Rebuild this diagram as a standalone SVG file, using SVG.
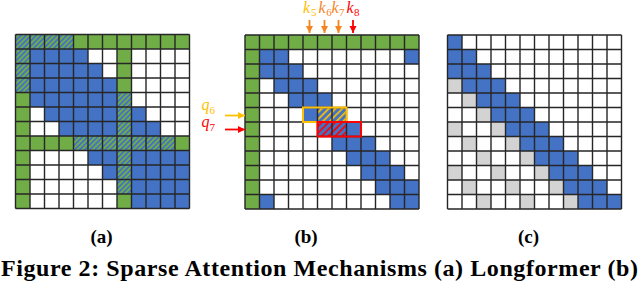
<svg xmlns="http://www.w3.org/2000/svg" xmlns:xlink="http://www.w3.org/1999/xlink" width="640" height="282" viewBox="0 0 640 282">
<style>
.g{fill:#70AD47}
.b{fill:#4472C4}
.s{fill:#D3D3D3}
.w{fill:#FFFFFF}
.grid{fill:none;stroke:#262626;stroke-width:1.4}
.lab{font-family:"Liberation Serif","DejaVu Serif",serif;font-weight:bold;font-size:19px;fill:#000;text-anchor:middle}
.cap{font-family:"Liberation Serif","DejaVu Serif",serif;font-weight:bold;font-size:24px;fill:#000}
.it{font-family:"Liberation Serif","DejaVu Serif",serif;font-style:italic;font-size:16px}
.sub{font-family:"Liberation Serif","DejaVu Serif",serif;font-size:11px}
</style>
<defs>
<pattern id="hA" patternUnits="userSpaceOnUse" width="3.6" height="3.6" patternTransform="rotate(45)"><rect width="3.6" height="3.6" fill="#70AD47"/><rect width="1.8" height="3.6" fill="#4472C4"/></pattern>
<pattern id="hY" patternUnits="userSpaceOnUse" width="4.8" height="4.8" patternTransform="rotate(45)"><rect width="4.8" height="4.8" fill="#4472C4"/><rect width="1.7" height="4.8" fill="#FFC000"/></pattern>
<pattern id="hR" patternUnits="userSpaceOnUse" width="4.8" height="4.8" patternTransform="rotate(45)"><rect width="4.8" height="4.8" fill="#4472C4"/><rect width="1.7" height="4.8" fill="#FF0000"/></pattern>
<path id="gridp" d="M0 0V174M14.5 0V174M29 0V174M43.5 0V174M58 0V174M72.5 0V174M87 0V174M101.5 0V174M116 0V174M130.5 0V174M145 0V174M159.5 0V174M174 0V174M0 0H174M0 14.5H174M0 29H174M0 43.5H174M0 58H174M0 72.5H174M0 87H174M0 101.5H174M0 116H174M0 130.5H174M0 145H174M0 159.5H174M0 174H174"/>
<marker id="mO" markerUnits="userSpaceOnUse" markerWidth="8" markerHeight="8" refX="7" refY="3.5" orient="auto"><path d="M0 0L7 3.5L0 7z" fill="#F5841F"/></marker>
<marker id="mR" markerUnits="userSpaceOnUse" markerWidth="8" markerHeight="8" refX="7" refY="3.5" orient="auto"><path d="M0 0L7 3.5L0 7z" fill="#FF0000"/></marker>
<marker id="mY" markerUnits="userSpaceOnUse" markerWidth="8" markerHeight="8" refX="7" refY="3.5" orient="auto"><path d="M0 0L7 3.5L0 7z" fill="#FFC000"/></marker>
</defs>

<g id="gridA" transform="translate(15.5,34.5)">
<rect class="w" width="174" height="174"/>
<rect x="0" y="0" width="14.5" height="58" fill="url(#hA)"/>
<rect x="14.5" y="0" width="43.5" height="14.5" fill="url(#hA)"/>
<rect class="g" x="58" y="0" width="116" height="14.5"/>
<rect class="b" x="14.5" y="14.5" width="58" height="14.5"/>
<rect class="b" x="14.5" y="29" width="72.5" height="14.5"/>
<rect class="b" x="14.5" y="43.5" width="87" height="14.5"/>
<rect class="g" x="101.5" y="14.5" width="14.5" height="43.5"/>
<rect class="g" x="0" y="58" width="14.5" height="116"/>
<rect class="b" x="14.5" y="58" width="87" height="14.5"/>
<rect class="b" x="29" y="72.5" width="72.5" height="14.5"/>
<rect class="b" x="116" y="72.5" width="14.5" height="14.5"/>
<rect class="b" x="43.5" y="87" width="58" height="14.5"/>
<rect class="b" x="116" y="87" width="29" height="14.5"/>
<rect x="101.5" y="58" width="14.5" height="43.5" fill="url(#hA)"/>
<rect class="g" x="0" y="101.5" width="58" height="14.5"/>
<rect x="58" y="101.5" width="101.5" height="14.5" fill="url(#hA)"/>
<rect class="g" x="159.5" y="101.5" width="14.5" height="14.5"/>
<rect class="b" x="72.5" y="116" width="29" height="14.5"/>
<rect class="b" x="87" y="130.5" width="14.5" height="14.5"/>
<rect x="101.5" y="116" width="14.5" height="43.5" fill="url(#hA)"/>
<rect class="g" x="101.5" y="159.5" width="14.5" height="14.5"/>
<rect class="b" x="116" y="116" width="58" height="58"/>
<use xlink:href="#gridp" class="grid"/>
</g>

<g id="gridB" transform="translate(245,35)">
<rect class="w" width="174" height="174"/>
<rect class="g" x="0" y="0" width="174" height="14.5"/>
<rect class="g" x="0" y="14.5" width="14.5" height="159.5"/>
<rect class="b" x="14.5" y="14.5" width="29" height="14.5"/>
<rect class="b" x="159.5" y="14.5" width="14.5" height="14.5"/>
<rect class="b" x="14.5" y="29" width="43.5" height="14.5"/>
<rect class="b" x="29" y="43.5" width="43.5" height="14.5"/>
<rect class="b" x="43.5" y="58" width="43.5" height="14.5"/>
<rect class="b" x="58" y="72.5" width="14.5" height="14.5"/>
<rect x="72.5" y="72.5" width="29" height="14.5" fill="url(#hY)"/>
<rect x="72.5" y="87" width="29" height="14.5" fill="url(#hR)"/>
<rect class="b" x="101.5" y="87" width="14.5" height="14.5"/>
<rect class="b" x="87" y="101.5" width="43.5" height="14.5"/>
<rect class="b" x="101.5" y="116" width="43.5" height="14.5"/>
<rect class="b" x="116" y="130.5" width="43.5" height="14.5"/>
<rect class="b" x="130.5" y="145" width="43.5" height="14.5"/>
<rect class="b" x="14.5" y="159.5" width="14.5" height="14.5"/>
<rect class="b" x="145" y="159.5" width="29" height="14.5"/>
<use xlink:href="#gridp" class="grid"/>
<rect x="58" y="72.5" width="43.5" height="14.5" fill="none" stroke="#FFC000" stroke-width="2"/>
<rect x="72.5" y="87" width="43.5" height="14.5" fill="none" stroke="#FF0000" stroke-width="2"/>
</g>

<g id="gridC" transform="translate(447.5,35)">
<rect class="w" width="174" height="174"/>
<rect class="b" x="0" y="0" width="14.5" height="14.5"/>
<rect class="b" x="0" y="14.5" width="29" height="14.5"/>
<rect class="b" x="0" y="29" width="43.5" height="14.5"/>
<rect class="b" x="14.5" y="43.5" width="43.5" height="14.5"/>
<rect class="b" x="29" y="58" width="43.5" height="14.5"/>
<rect class="b" x="43.5" y="72.5" width="43.5" height="14.5"/>
<rect class="b" x="58" y="87" width="43.5" height="14.5"/>
<rect class="b" x="72.5" y="101.5" width="43.5" height="14.5"/>
<rect class="b" x="87" y="116" width="43.5" height="14.5"/>
<rect class="b" x="101.5" y="130.5" width="43.5" height="14.5"/>
<rect class="b" x="116" y="145" width="43.5" height="14.5"/>
<rect class="b" x="130.5" y="159.5" width="43.5" height="14.5"/>
<rect class="s" x="0" y="43.5" width="14.5" height="14.5"/>
<rect class="s" x="14.5" y="58" width="14.5" height="14.5"/>
<rect class="s" x="29" y="72.5" width="14.5" height="14.5"/>
<rect class="s" x="0" y="87" width="14.5" height="14.5"/>
<rect class="s" x="43.5" y="87" width="14.5" height="14.5"/>
<rect class="s" x="14.5" y="101.5" width="14.5" height="14.5"/>
<rect class="s" x="58" y="101.5" width="14.5" height="14.5"/>
<rect class="s" x="29" y="116" width="14.5" height="14.5"/>
<rect class="s" x="72.5" y="116" width="14.5" height="14.5"/>
<rect class="s" x="0" y="130.5" width="14.5" height="14.5"/>
<rect class="s" x="43.5" y="130.5" width="14.5" height="14.5"/>
<rect class="s" x="87" y="130.5" width="14.5" height="14.5"/>
<rect class="s" x="14.5" y="145" width="14.5" height="14.5"/>
<rect class="s" x="58" y="145" width="14.5" height="14.5"/>
<rect class="s" x="101.5" y="145" width="14.5" height="14.5"/>
<rect class="s" x="29" y="159.5" width="14.5" height="14.5"/>
<rect class="s" x="72.5" y="159.5" width="14.5" height="14.5"/>
<rect class="s" x="116" y="159.5" width="14.5" height="14.5"/>
<use xlink:href="#gridp" class="grid"/>
</g>

<g id="connectors" stroke-width="1.8" fill="none">
<line x1="309.5" y1="20" x2="309.5" y2="33" stroke="#F5841F" marker-end="url(#mO)"/>
<line x1="324.5" y1="20" x2="324.5" y2="33" stroke="#F5841F" marker-end="url(#mO)"/>
<line x1="338.5" y1="20" x2="338.5" y2="33" stroke="#F5841F" marker-end="url(#mO)"/>
<line x1="353" y1="20" x2="353" y2="33" stroke="#FF0000" marker-end="url(#mR)"/>
<line x1="225" y1="115.5" x2="245" y2="115.5" stroke="#FFC000" marker-end="url(#mY)"/>
<line x1="225" y1="129.5" x2="245" y2="129.5" stroke="#FF0000" marker-end="url(#mR)"/>
</g>

<g id="keylabels">
<text fill="#FFC000"><tspan class="it" x="303" y="13">k</tspan><tspan class="sub" x="311" y="16">5</tspan></text>
<text fill="#F5841F"><tspan class="it" x="318.5" y="13">k</tspan><tspan class="sub" x="326.3" y="16">6</tspan></text>
<text fill="#F5841F"><tspan class="it" x="331.5" y="13">k</tspan><tspan class="sub" x="339" y="16">7</tspan></text>
<text fill="#FF0000"><tspan class="it" x="346.5" y="13">k</tspan><tspan class="sub" x="354" y="16">8</tspan></text>
<text fill="#FFC000"><tspan class="it" x="201.5" y="110">q</tspan><tspan class="sub" x="209.5" y="113.5">6</tspan></text>
<text fill="#FF0000"><tspan class="it" x="201.5" y="127">q</tspan><tspan class="sub" x="209.5" y="130.5">7</tspan></text>
</g>

<text class="lab" x="101.5" y="243">(a)</text>
<text class="lab" x="306" y="243">(b)</text>
<text class="lab" x="528.5" y="243">(c)</text>
<text class="cap" x="1" y="276" textLength="637">Figure 2: Sparse Attention Mechanisms (a) Longformer (b)</text>
</svg>
